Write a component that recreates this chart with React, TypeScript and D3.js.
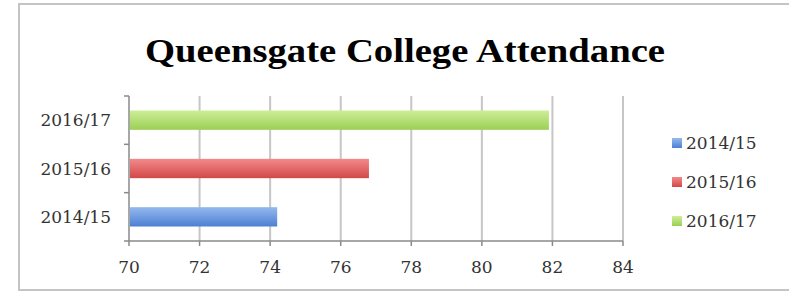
import React from "react";
import * as d3 from "d3";

const title = "Queensgate College Attendance";
const categories = ["2014/15", "2015/16", "2016/17"];
const values = [74.2, 76.8, 81.9];
const xTicks = [70, 72, 74, 76, 78, 80, 82, 84];
const barColors = [
    ["#95b9ee", "#4c80d2"],
    ["#f28a8a", "#d24848"],
    ["#cdee98", "#9ccf55"],
];

const width = 789;
const height = 292;

export default function App() {
    const x = d3.scaleLinear([70, 84], [129, 623]);
    // top-down order: newest year at the top
    const y = d3.scaleBand<string>([...categories].reverse(), [96, 241])
        .paddingInner(0.6)
        .paddingOuter(0.3);

    const plotTop = 96;
    const plotBottom = 241;
    const labelFont = "'DejaVu Serif', serif";

    return <svg width={width} height={height}
        style={{ position: "absolute", left: 0, top: 0, background: "#fff" }}>
        <defs>
            {barColors.map((c, i) => (
                <linearGradient key={i} id={`bar${i}`} x1="0" y1="0" x2="0" y2="1">
                    <stop offset="0" stopColor={c[0]} />
                    <stop offset="1" stopColor={c[1]} />
                </linearGradient>
            ))}
        </defs>

        {/* outer frame, right edge runs off the picture */}
        <rect x={19} y={4} width={800} height={286} fill="none" stroke="#c4c4c4" strokeWidth={2} />

        <text x={405} y={62} textAnchor="middle" fontFamily="'Liberation Serif', serif" fontWeight="bold"
            fontSize={34} textLength={520} lengthAdjust="spacingAndGlyphs" fill="#000">
            {title}
        </text>

        {/* vertical grid */}
        {xTicks.map((t) => (
            <g key={t}>
                {t !== 70 && <line x1={x(t)} x2={x(t)} y1={plotTop} y2={plotBottom}
                    stroke="#c6c6c6" strokeWidth={2} />}
                <line x1={x(t)} x2={x(t)} y1={plotBottom} y2={plotBottom + 5}
                    stroke="#8a8a8a" strokeWidth={1.5} />
                <text x={x(t)} y={273} textAnchor="middle" fontFamily={labelFont}
                    fontSize={17} fill="#333">{t}</text>
            </g>
        ))}

        {/* axes */}
        <line x1={x(70)} x2={x(84)} y1={plotBottom} y2={plotBottom} stroke="#8a8a8a" strokeWidth={1.5} />
        <line x1={x(70)} x2={x(70)} y1={plotTop} y2={plotBottom} stroke="#8a8a8a" strokeWidth={1.5} />
        {[0, 1, 2, 3].map((i) => {
            const yy = plotTop + i * y.step();
            return <line key={i} x1={x(70) - 5} x2={x(70)} y1={yy} y2={yy}
                stroke="#8a8a8a" strokeWidth={1.5} />;
        })}

        {categories.map((c, i) => (
            <g key={c}>
                <rect x={x(70) + 1} y={y(c)} width={x(values[i]) - x(70) - 1} height={y.bandwidth()}
                    fill={`url(#bar${i})`} />
                <text x={111} y={y(c)! + y.bandwidth() / 2} dominantBaseline="central"
                    textAnchor="end" fontFamily={labelFont} fontSize={17} fill="#333">{c}</text>
            </g>
        ))}

        {/* legend */}
        {categories.map((c, i) => (
            <g key={c} transform={`translate(672, ${143 + i * 39})`}>
                <rect x={0} y={-5} width={10} height={10} fill={`url(#bar${i})`} />
                <text x={14} y={0} dominantBaseline="central" fontFamily={labelFont}
                    fontSize={17} fill="#333">{c}</text>
            </g>
        ))}
    </svg>;
}
